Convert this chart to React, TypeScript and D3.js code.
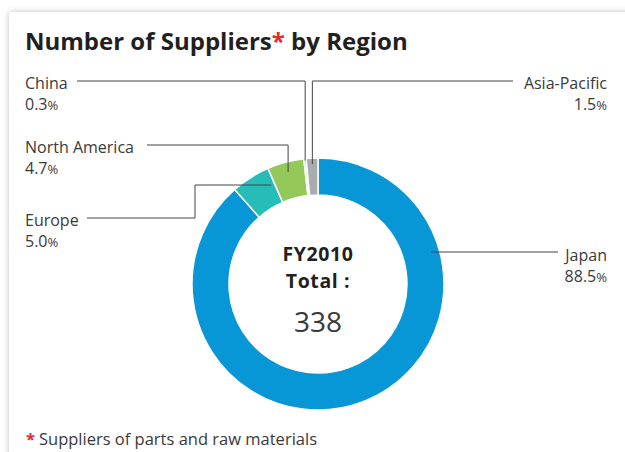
import React from "react";
import * as d3 from "d3";

const regions = ["Japan", "Europe", "North America", "China", "Asia-Pacific"];
const shares = [88.5, 5.0, 4.7, 0.3, 1.5];
const colors = ["#0796d6", "#26bdb9", "#94c95a", "#d6ecc4", "#aaabae"];
const titleText = "Number of Suppliers";
const titleRest = " by Region";
const centerLines = ["FY2010", "Total :"];
const totalValue = 338;
const footnote = "Suppliers of parts and raw materials";

// label layout (annotation positions)
const labelLayout = [
  { side: "right", x: 607, y: 260, lineY: 252, lineStart: 558 },
  { side: "left", x: 25, y: 225, lineY: 218, lineStart: 87, elbowX: 195, upperY: 185 },
  { side: "left", x: 25, y: 152, lineY: 145, lineStart: 147 },
  { side: "left", x: 25, y: 88, lineY: 81, lineStart: 77 },
  { side: "right", x: 607, y: 88, lineY: 81, lineStart: 513 },
];

const W = 625;
const H = 452;
const cx = 318;
const cy = 284;
const rOuter = 126;
const rInner = 89;

export default function App() {
  const pie = d3
    .pie<number>()
    .sort(null)
    .value((d) => d)
    .startAngle(0)
    .endAngle(2 * Math.PI);
  const arcs = pie(shares);
  const arc = d3.arc<d3.PieArcDatum<number>>().innerRadius(rInner).outerRadius(rOuter);

  const pt = (angle: number, r: number) => [cx + r * Math.sin(angle), cy - r * Math.cos(angle)];

  const font = "'Open Sans', 'Noto Sans', sans-serif";
  const textColor = "#3a3a3a";

  const leaders = arcs.map((a, i) => {
    const L = labelLayout[i];
    const mid = (a.startAngle + a.endAngle) / 2;
    if (i === 0) {
      const dy = L.lineY - cy;
      const rr = (rInner + rOuter) / 2 + 10;
      const ex = cx + Math.sqrt(rr * rr - dy * dy);
      return `M${L.lineStart},${L.lineY}H${ex}`;
    }
    if (i === 1) {
      const dyy = (L.upperY as number) - cy;
      const rr = (rInner + rOuter) / 2 + 2;
      const ex = cx - Math.sqrt(rr * rr - dyy * dyy);
      return `M${L.lineStart},${L.lineY}H${L.elbowX}V${L.upperY}H${ex}`;
    }
    const rr = i === 2 ? 116 : i === 3 ? 124 : 120;
    const [ex, ey] = pt(mid, rr);
    return `M${L.lineStart},${L.lineY}H${ex}V${ey}`;
  });

  return (
    <svg
      width={W}
      height={H}
      style={{ position: "absolute", left: 0, top: 0, display: "block" }}
      fontFamily={font}
    >
      <defs>
        <filter id="shadow" x="-5%" y="-5%" width="110%" height="110%">
          <feGaussianBlur in="SourceAlpha" stdDeviation="3" />
          <feComponentTransfer>
            <feFuncA type="linear" slope="0.25" />
          </feComponentTransfer>
          <feMerge>
            <feMergeNode />
            <feMergeNode in="SourceGraphic" />
          </feMerge>
        </filter>
      </defs>
      <rect x={0} y={0} width={W} height={H} fill="#ffffff" />
      <rect x={9} y={12} width={W + 40} height={H + 40} fill="#ffffff" filter="url(#shadow)" />

      <text x={25} y={50} fontSize={24} fontWeight={700} fill="#231f20">
        {titleText}
        <tspan fill="#e8262d">*</tspan>
        {titleRest}
      </text>

      <g transform={`translate(${cx},${cy})`}>
        {arcs.map((a, i) => (
          <path key={regions[i]} d={arc(a) || ""} fill={colors[i]} stroke="#ffffff" strokeWidth={1.5} />
        ))}
      </g>

      <g fill="none" stroke="#444" strokeWidth={1}>
        {leaders.map((d, i) => (
          <path key={i} d={d} />
        ))}
      </g>

      <g fontSize={16} fill={textColor}>
        {regions.map((r, i) => {
          const L = labelLayout[i];
          const anchor = L.side === "left" ? "start" : "end";
          return (
            <g key={r}>
              <text x={L.x} y={L.y + 1} textAnchor={anchor}>
                {r}
              </text>
              <text x={L.x} y={L.y + 22} textAnchor={anchor}>
                {shares[i].toFixed(1)}
                <tspan fontSize={13}>%</tspan>
              </text>
            </g>
          );
        })}
      </g>

      <g textAnchor="middle" fill="#231f20">
        <text x={cx} y={261} fontSize={19.5} fontWeight={700} letterSpacing={0.6}>
          {centerLines[0]}
        </text>
        <text x={cx} y={288} fontSize={19.5} fontWeight={700} letterSpacing={0.6}>
          {centerLines[1]}
        </text>
        <text x={cx} y={332} fontSize={28} fill={textColor}>
          {totalValue}
        </text>
      </g>

      <text x={26} y={445} fontSize={16.5} fill={textColor}>
        <tspan fill="#e8262d" fontWeight={700}>*</tspan>
        <tspan dx={4}>{footnote}</tspan>
      </text>
    </svg>
  );
}
